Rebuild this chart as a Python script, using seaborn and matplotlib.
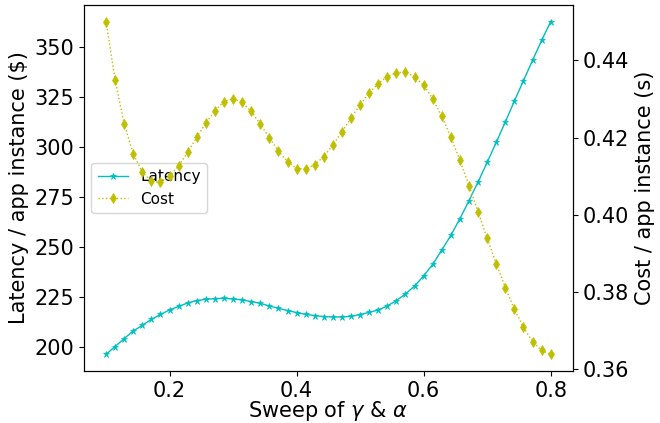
import numpy as np
import matplotlib
matplotlib.use("Agg")
import matplotlib.pyplot as plt
import seaborn as sns

sweep = np.linspace(0.1, 0.8, 50)
latency = [196.3, 200.2, 204.2, 208.0, 210.8, 213.8, 216.3, 218.5, 220.3, 222.0,
           223.2, 223.8, 224.2, 224.3, 224.0, 223.5, 222.7, 221.8, 220.5, 219.3,
           218.2, 217.2, 216.3, 215.7, 215.2, 215.0, 215.0, 215.3, 216.2, 217.3,
           218.5, 220.5, 223.2, 226.5, 230.5, 235.5, 241.3, 248.5, 255.8, 264.2,
           273.2, 282.5, 292.3, 302.3, 312.5, 323.0, 333.2, 343.3, 353.3, 362.7]
cost = [0.4500, 0.4349, 0.4235, 0.4158, 0.4110, 0.4087, 0.4085, 0.4100, 0.4127, 0.4162,
        0.4201, 0.4238, 0.4270, 0.4293, 0.4301, 0.4291, 0.4268, 0.4235, 0.4200, 0.4165,
        0.4138, 0.4120, 0.4119, 0.4130, 0.4151, 0.4181, 0.4215, 0.4251, 0.4285, 0.4316,
        0.4340, 0.4358, 0.4368, 0.4369, 0.4358, 0.4336, 0.4301, 0.4255, 0.4202, 0.4141,
        0.4076, 0.4008, 0.3940, 0.3874, 0.3812, 0.3756, 0.3709, 0.3672, 0.3649, 0.3639]

fig = plt.figure(figsize=(6.6, 4.23), dpi=100)
ax = fig.add_axes([0.127, 0.123, 0.741, 0.865])
ax2 = ax.twinx()

sns.lineplot(x=sweep, y=latency, ax=ax, color='c', marker='*', linestyle='-',
             linewidth=1, markersize=5, markeredgecolor='c', markeredgewidth=0.5,
             label='Latency')
sns.lineplot(x=sweep, y=cost, ax=ax2, color='y', marker='d', linestyle=':',
             linewidth=1, markersize=5.5, markeredgecolor='y', markeredgewidth=0.5,
             label='Cost')

fs = 15
ax.set_xlabel('Sweep of $\\gamma$ & $\\alpha$', fontsize=fs, labelpad=-1)
ax.set_ylabel('Latency / app instance ($)', fontsize=fs)
ax2.set_ylabel('Cost / app instance (s)', fontsize=fs)
ax.set_xticks([0.2, 0.4, 0.6, 0.8])
ax.set_yticks([200, 225, 250, 275, 300, 325, 350])
ax2.set_yticks([0.36, 0.38, 0.40, 0.42, 0.44])
ax.tick_params(labelsize=fs)
ax2.tick_params(labelsize=fs)

h1, l1 = ax.get_legend_handles_labels()
h2, l2 = ax2.get_legend_handles_labels()
if ax2.get_legend() is not None:
    ax2.get_legend().remove()
ax.legend(h1 + h2, l1 + l2, loc='center left', fontsize=11)

fig.savefig('out.png', dpi=100)
